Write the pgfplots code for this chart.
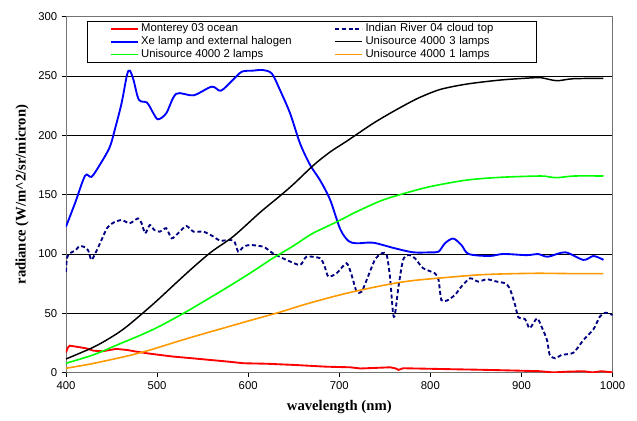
\documentclass[border=0pt]{standalone}
\usepackage{pgfplots}
\pgfplotsset{compat=1.18}
\usepackage{fontspec}
\setmainfont{Liberation Sans}
\newfontfamily\timesf{Liberation Serif}
\usetikzlibrary{calc}

\definecolor{xlred}{RGB}{255,0,0}
\definecolor{xlnavy}{RGB}{0,0,128}
\definecolor{xlblue}{RGB}{0,0,255}
\definecolor{xlgreen}{RGB}{0,255,0}
\definecolor{xlorange}{RGB}{255,153,0}

\begin{document}
\begin{tikzpicture}
\begin{axis}[name=ax,
  scale only axis, width=410pt, height=267pt,
  xmin=400, xmax=1000, ymin=0, ymax=300,
  xtick={400,500,...,1000}, ytick={0,50,...,300},
  ymajorgrids, grid style={black, line width=0.6pt},
  axis line style={black!55, line width=0.6pt},
  tick align=outside, major tick length=3pt,
  tick style={black, line width=0.6pt},
  xtick pos=bottom, ytick pos=left,
  /pgf/number format/assume math mode=true,
  /pgf/number format/1000 sep={},
  ticklabel style={font=\fontsize{8.5}{10}\selectfont},
  xlabel={\timesf\bfseries wavelength (nm)},
  ylabel={\timesf\bfseries radiance (W/m\textasciicircum 2/sr/micron)},
  label style={font=\fontsize{11}{13}\selectfont},
  xlabel style={at={(axis description cs:0.5,0)}, anchor=center, yshift=-26pt},
  ylabel style={at={(axis description cs:-0.0805,0.5)}, anchor=center},
  legend columns=2,
  legend cell align=left,
  legend image code/.code={\draw[#1] (0pt,0pt) -- (20pt,0pt);},
  legend style={at={(0.0384,0.988)}, anchor=north west,
    draw=black, fill=white,
    font=\fontsize{8.5}{10}\selectfont,
    inner xsep=17pt, inner ysep=1pt, row sep=0pt, column sep=1pt,
    nodes={inner xsep=1pt, inner ysep=0.9pt, text height=6pt, text depth=1.8pt},
    /tikz/column 2/.style={column sep=31pt},
    /tikz/column 4/.style={nodes={text width=110pt}}},
]
% Monterey 03 ocean
\addplot[xlred, line width=1.4pt] coordinates {
(400,17) (402,21) (404,22.7) (410,22) (415,21.4) (422,20.5) (430,18.5) (440,18)
(455,20) (467,19.1) (475,18) (489,16.3) (500,15.2) (518,13.5) (540,12) (558,10.7)
(575,9.5) (595,7.9) (620,7.5) (650,6.5) (686,5) (712,4.5) (723,3.5) (740,4)
(756,4.5) (762,3.5) (765,2.3) (770,3.7) (790,3.4) (822,2.9) (850,2.5) (880,2.0)
(895,1.7) (920,1.2) (935,0.2) (950,0.8) (968,1.2) (978,0.2) (988,1.2) (1000,0.2)
};
\addlegendentry{Monterey 03 ocean}
% Indian River 04 cloud top
\addplot[xlnavy, line width=1.4pt, dash pattern=on 3pt off 2pt, smooth, tension=0.4] coordinates {
(400,85) (401,96.4) (404,100.6) (410,102.8) (415,106.7) (421,105.6) (424.5,102.8)
(428,95) (434,103.4) (439,111.8) (445,121.7) (452,126.4) (461,128.6) (470,125.9)
(479,130) (483,125.9) (487,117.4) (492,124.4) (497,120.2) (503,118.8) (510,121.7)
(516,113.2) (523,117.4) (532,123.6) (540,118.8) (551,118.8) (562,114.6) (569,111.2)
(580,111.8) (585,110.4) (589,102) (595,106.1) (602,107.6) (617,106) (627,100.6)
(642,95) (657,90.7) (664,97.7) (679,96.4) (684,89.3) (688,80.9) (697,83.7)
(708,92.2) (713.5,82.3) (719,68.2) (724.5,68.2) (730,78) (739,95) (746.5,100.6)
(752,99.2) (755.6,80.9) (759,50) (761,48.6) (765,72.5) (770,95) (776,99.2)
(783,96.4) (792,88) (805,83.7) (809,78) (812,61.2) (818,60.7) (827,65.5) (834,72.5)
(843.5,79.5) (852.5,76.7) (862,78.7) (873,76.7) (882,75.3) (887,71.1) (893,57)
(896.5,46.7) (904,45) (909,37.4) (917,45.8) (922,38.8) (928,27.5) (931,14.9)
(937,12.1) (944,14.9) (957,16.8) (968,27.5) (979,36.6) (986,47.2) (992,50.5) (1000,48.6)
};
\addlegendentry{Indian River 04 cloud top}
% Xe lamp and external halogen
\addplot[xlblue, line width=1.4pt, smooth] coordinates {
(400,123) (410,143) (421,166) (428,165) (437,175) (448,190) (454,206) (461,227)
(467,251) (470,254.5) (474,247) (480,230) (489,227.5) (496,218.5) (501,213.5)
(510,218.5) (521,235) (540,233.7) (560,241) (570,237.6) (583,246.6) (593,253.6)
(605,254.5) (616,255) (626,252) (635,238) (646,218.5) (657,193) (668,175) (679,162)
(690,145.5) (701,121) (710,111) (719,109) (737,109.5) (760,105) (781,101.4)
(800,101.4) (809,102) (816,109) (825,113) (834,107.6) (842,100) (865,98.3)
(880,100) (906,99) (918,100) (929,97.7) (948,101.4) (968,95) (979,98.3) (990,95)
};
\addlegendentry{Xe lamp and external halogen}
% Unisource 4000 3 lamps
\addplot[black, line width=1.1pt, smooth] coordinates {
(400,11.5) (430,21.4) (450,30) (467,39) (496,58) (520,75) (540,89) (560,102)
(584,115) (613,135) (635,149) (650,159) (672,175) (690,186) (708,195) (737,210)
(759,220) (778,228) (790,232.5) (811,238.7) (840,243.2) (877,246.6) (913,248.5)
(922,248.5) (931,247) (940,246) (957,247.7) (990,248)
};
\addlegendentry{Unisource 4000 3 lamps}
% Unisource 4000 2 lamps
\addplot[xlgreen, line width=1.2pt, smooth] coordinates {
(400,7.9) (430,15) (456,23.3) (480,31) (500,38) (529,50) (560,64) (590,78)
(613,89.3) (624,95) (650,107) (670,117) (697,127) (720,136) (748,145.5)
(778,152.5) (803,157.3) (840,162.3) (877,164.6) (920,165.7) (930,165)
(939,164.3) (958,165.7) (990,165.7)
};
\addlegendentry{Unisource 4000 2 lamps}
% Unisource 4000 1 lamps
\addplot[xlorange, line width=1.2pt, smooth] coordinates {
(400,3.7) (425,7) (448,10.7) (470,14.5) (492,19) (515,24.5) (540,30.3) (600,43.5)
(635,51) (660,57) (693,64) (720,69) (756,74.7) (780,77.5) (807,79.5) (858,82.6)
(913,83.7) (950,83.5) (990,83.5)
};
\addlegendentry{Unisource 4000 1 lamps}
\end{axis}
\pgfresetboundingbox
\path[use as bounding box] ($(ax.south west)+(-49.5pt,-36.2pt)$) rectangle ($(ax.north east)+(18.3pt,12.5pt)$);
\end{tikzpicture}
\end{document}
